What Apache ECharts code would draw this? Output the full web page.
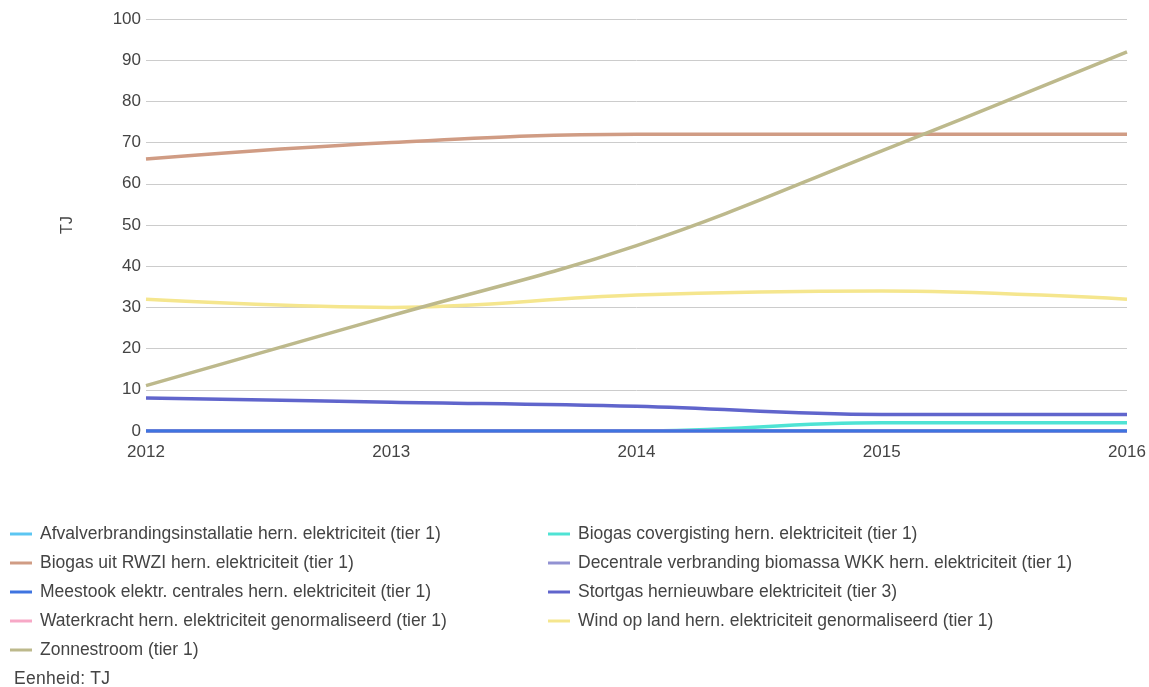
<!DOCTYPE html>
<html>
<head>
<meta charset="utf-8">
<script src="https://cdn.jsdelivr.net/npm/echarts@6/dist/echarts.min.js"></script>
<style>
html,body{margin:0;padding:0;background:#fff;}
#chart{width:1149px;height:687px;}
#unit{position:absolute;left:14px;top:668px;font:17.5px "Liberation Sans",Arial,sans-serif;color:#444;letter-spacing:0.3px;}
</style>
</head>
<body>
<div id="chart"></div>
<div id="unit">Eenheid: TJ</div>
<script>
const years = ['2012','2013','2014','2015','2016'];
const yTicks = [0,10,20,30,40,50,60,70,80,90,100];

const afval = [0,0,0,0,0];
const biogasCo = [0,0,0,2,2];
const biogasRwzi = [66,70,72,72,72];
const decentrale = [0,0,0,0,0];
const meestook = [0,0,0,0,0];
const stortgas = [8,7,6,4,4];
const waterkracht = [0,0,0,0,0];
const wind = [32,30,33,34,32];
const zon = [11,28,45,68,92];

const names = {
  afval:'Afvalverbrandingsinstallatie hern. elektriciteit (tier 1)',
  biogasCo:'Biogas covergisting hern. elektriciteit (tier 1)',
  biogasRwzi:'Biogas uit RWZI hern. elektriciteit (tier 1)',
  decentrale:'Decentrale verbranding biomassa WKK hern. elektriciteit (tier 1)',
  meestook:'Meestook elektr. centrales hern. elektriciteit (tier 1)',
  stortgas:'Stortgas hernieuwbare elektriciteit (tier 3)',
  waterkracht:'Waterkracht hern. elektriciteit genormaliseerd (tier 1)',
  wind:'Wind op land hern. elektriciteit genormaliseerd (tier 1)',
  zon:'Zonnestroom (tier 1)'
};
const colors = {
  afval:'#5cc6f2', biogasCo:'#4fe3d4', biogasRwzi:'#d09c84', decentrale:'#9292d2',
  meestook:'#3f74e0', stortgas:'#6065cc', waterkracht:'#f7a8c6', wind:'#f5e68e', zon:'#bdb98c'
};
const data = {afval, biogasCo, biogasRwzi, decentrale, meestook, stortgas, waterkracht, wind, zon};
const order = ['afval','biogasCo','biogasRwzi','decentrale','waterkracht','meestook','stortgas','wind','zon'];

const font = '"Liberation Sans", Arial, sans-serif';
const series = order.map(k => ({
  name: names[k], type:'line', data: data[k], smooth: 0.4, showSymbol:false, symbol:'none',
  lineStyle:{width:3.5, color:colors[k]}, itemStyle:{color:colors[k]},
  z: k==='meestook'?4:2
}));

const legendCommon = {
  orient:'vertical', icon:'rect', itemWidth:22, itemHeight:3, itemGap:9,
  textStyle:{fontFamily:font, fontSize:17.5, color:'#444', lineHeight:20, padding:[0,0,0,3]}, top:519
};

const chart = echarts.init(document.getElementById('chart'));
chart.setOption({
  animation:false,
  color: order.map(k=>colors[k]),
  grid:{left:146, right:22, top:19, bottom:256},
  legend:[
    Object.assign({left:5, data:[names.afval,names.biogasRwzi,names.meestook,names.waterkracht,names.zon]}, legendCommon),
    Object.assign({left:543, data:[names.biogasCo,names.decentrale,names.stortgas,names.wind]}, legendCommon)
  ],
  xAxis:{type:'category', data:years, boundaryGap:false,
    axisLine:{show:false}, axisTick:{show:false},
    axisLabel:{fontFamily:font, fontSize:17, color:'#444', margin:13}},
  yAxis:{type:'value', min:0, max:100, interval:10,
    name:'TJ', nameLocation:'middle', nameRotate:90, nameGap:70,
    nameTextStyle:{fontFamily:font, fontSize:16, color:'#444'},
    axisLabel:{fontFamily:font, fontSize:17, color:'#444', margin:5,
      formatter: v => yTicks.includes(v) ? String(v) : ''},
    splitLine:{lineStyle:{color:'#cccccc', width:1}}},
  series: series
});
</script>
</body>
</html>
